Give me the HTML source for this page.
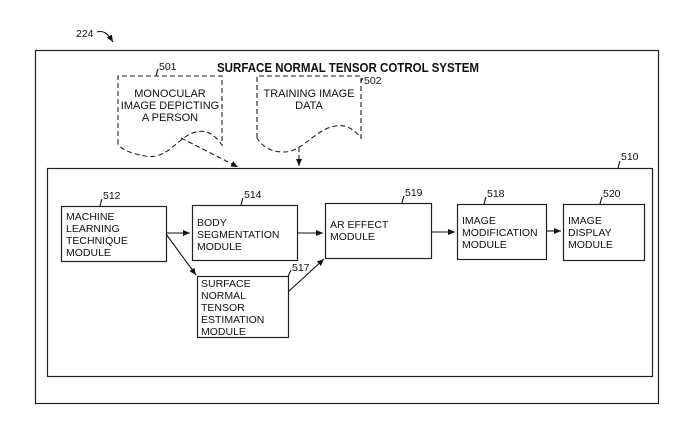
<!DOCTYPE html>
<html><head><style>html,body{margin:0;padding:0;background:#fff}svg{display:block}text{font-family:"Liberation Sans",Arial,sans-serif;fill:#111}</style></head>
<body>
<svg width="682" height="429" viewBox="0 0 682 429" xmlns="http://www.w3.org/2000/svg">
<defs><marker id="a" markerWidth="8" markerHeight="8" refX="7" refY="4" orient="auto" markerUnits="userSpaceOnUse"><path d="M0,1 L7,4 L0,7 Z" fill="#111"/></marker></defs>
<g stroke="#222" fill="none" stroke-width="1.2">
<rect x="35.5" y="50.5" width="623" height="353"/>
<rect x="47.5" y="168.5" width="605" height="208"/>
<rect x="61.5" y="206.5" width="105" height="55"/>
<rect x="192.5" y="205.5" width="105" height="55"/>
<rect x="325.5" y="203.5" width="106" height="55"/>
<rect x="457.5" y="204.5" width="89" height="55"/>
<rect x="563.5" y="204.5" width="81" height="56"/>
<rect x="197.5" y="276.5" width="91" height="61"/>
</g>
<g stroke="#222" fill="none" stroke-width="1.1" stroke-dasharray="5,3">
<path d="M118,144 L118,76 L222,76 L222,145 C210,128 200,130 190,134 C175,142 165,160 145,156 C130,153 122,150 118,144"/>
<path d="M257,138 L257,76 L361,76 L361,138 C350,124 340,124 328,128 C310,136 300,152 284,152 C270,152 262,146 257,138"/>
<path d="M181,138 L238,167" marker-end="url(#a)"/>
<path d="M299,147 L299,166" marker-end="url(#a)"/>
</g>
<g stroke="#111" stroke-width="1.1" fill="none">
<path d="M166,233 L190,233" marker-end="url(#a)"/>
<path d="M166,234 L196,275" marker-end="url(#a)"/>
<path d="M297,233 L323,233" marker-end="url(#a)"/>
<path d="M288,292 L324,259" marker-end="url(#a)"/>
<path d="M431,232 L455,232" marker-end="url(#a)"/>
<path d="M546,231 L561,231" marker-end="url(#a)"/>
<path d="M97,32 C104,30 108,34 113,42" marker-end="url(#a)"/>
<path d="M100,206 C101,203 101,201 102,199"/>
<path d="M241,205 C242,202 242,200 243,198"/>
<path d="M402,203 C403,200 403,198 404,196"/>
<path d="M484,204 C485,201 485,199 486,197"/>
<path d="M600,204 C601,201 601,199 602,197"/>
<path d="M288,277 C289,274 290,272 291,270"/>
<path d="M618,168 C619,165 619,163 620,161"/>
<path d="M156,76 C157,73 157,71 158,69"/>
<path d="M361,82 C362,80 362,79 363,78"/>
</g>
<g font-size="10.5">
<text x="348" y="72" font-size="12.5" font-weight="bold" text-anchor="middle" textLength="262" lengthAdjust="spacingAndGlyphs">SURFACE NORMAL TENSOR COTROL SYSTEM</text>
<text x="76" y="37">224</text>
<text x="159" y="70">501</text>
<text x="364" y="84">502</text>
<text x="621" y="160">510</text>
<text x="103" y="199">512</text>
<text x="244" y="198">514</text>
<text x="405" y="196">519</text>
<text x="487" y="197">518</text>
<text x="603" y="197">520</text>
<text x="292" y="271">517</text>
<g text-anchor="middle" font-size="11"><text x="170" y="97">MONOCULAR</text><text x="170" y="109">IMAGE DEPICTING</text><text x="170" y="121">A PERSON</text>
<text x="309" y="97">TRAINING IMAGE</text><text x="309" y="109">DATA</text></g>
<text x="66" y="220">MACHINE</text><text x="66" y="232">LEARNING</text><text x="66" y="244">TECHNIQUE</text><text x="66" y="256">MODULE</text>
<text x="197" y="226">BODY</text><text x="197" y="238">SEGMENTATION</text><text x="197" y="250">MODULE</text>
<text x="330" y="228">AR EFFECT</text><text x="330" y="240">MODULE</text>
<text x="462" y="224">IMAGE</text><text x="462" y="236">MODIFICATION</text><text x="462" y="248">MODULE</text>
<text x="568" y="224">IMAGE</text><text x="568" y="236">DISPLAY</text><text x="568" y="248">MODULE</text>
<text x="201" y="287">SURFACE</text><text x="201" y="299">NORMAL</text><text x="201" y="311">TENSOR</text><text x="201" y="323">ESTIMATION</text><text x="201" y="335">MODULE</text>
</g>
</svg>
</body></html>
